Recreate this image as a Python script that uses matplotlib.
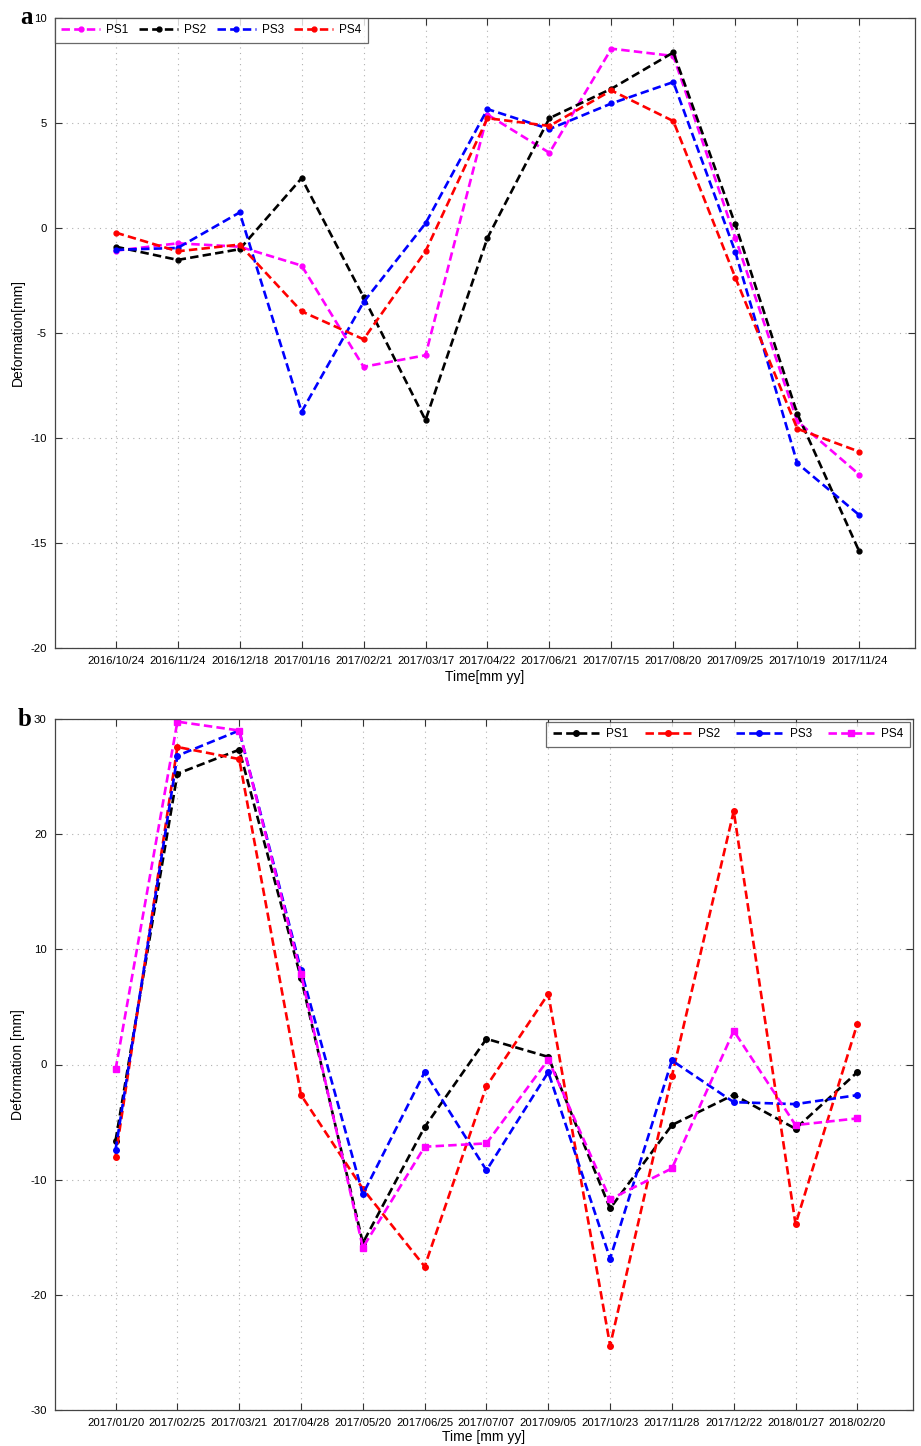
import matplotlib
matplotlib.use("Agg")
import matplotlib.pyplot as plt
from matplotlib import font_manager

names = {f.name for f in font_manager.fontManager.ttflist}
tickfont = 'Liberation Sans Narrow' if 'Liberation Sans Narrow' in names else 'Liberation Sans'
plt.rcParams['font.family'] = ['Liberation Sans', 'DejaVu Sans']

# ---------------- data: panel a ----------------
dates_a = ['2016/10/24', '2016/11/24', '2016/12/18', '2017/01/16', '2017/02/21',
           '2017/03/17', '2017/04/22', '2017/06/21', '2017/07/15', '2017/08/20',
           '2017/09/25', '2017/10/19', '2017/11/24']
a_ps1 = [-1.08, -0.73, -0.89, -1.79, -6.61, -6.06, 5.4, 3.58, 8.54, 8.19, -0.47, -9.2, -11.74]
a_ps2 = [-0.89, -1.52, -1.01, 2.37, -3.29, -9.15, -0.47, 5.23, 6.63, 8.36, 0.17, -8.84, -15.4]
a_ps3 = [-1.04, -0.95, 0.74, -8.75, -3.53, 0.22, 5.66, 4.71, 5.93, 6.95, -1.14, -11.2, -13.67]
a_ps4 = [-0.22, -1.11, -0.79, -3.97, -5.3, -1.11, 5.23, 4.86, 6.55, 5.09, -2.36, -9.56, -10.65]

# ---------------- data: panel b ----------------
dates_b = ['2017/01/20', '2017/02/25', '2017/03/21', '2017/04/28', '2017/05/20',
           '2017/06/25', '2017/07/07', '2017/09/05', '2017/10/23', '2017/11/28',
           '2017/12/22', '2018/01/27', '2018/02/20']
b_ps1 = [-6.6, 25.25, 27.33, 7.5, -15.5, -5.43, 2.23, 0.66, -12.5, -5.26, -2.63, -5.58, -0.66]
b_ps2 = [-8.0, 27.57, 26.52, -2.65, -10.8, -17.54, -1.88, 6.13, -24.4, -1.0, 22.0, -13.87, 3.55]
b_ps3 = [-7.4, 26.81, 29.0, 8.2, -11.27, -0.66, -9.19, -0.66, -16.85, 0.35, -3.27, -3.44, -2.66]
b_ps4 = [-0.43, 29.77, 29.0, 7.86, -15.9, -7.14, -6.85, 0.43, -11.7, -9.02, 2.92, -5.26, -4.68]

W, H = 921, 1446
fig = plt.figure(figsize=(W / 100, H / 100), dpi=100)

def make_axes(l, t, r, b):
    return fig.add_axes([l / W, 1 - b / H, (r - l) / W, (b - t) / H])

axa = make_axes(55, 18, 915, 648)
axb = make_axes(55, 719, 913, 1410)

DASH = (0, (3.2, 1.6))

def style(ax, labels, ylim, yticks, xlabel, ylabel, xlpad):
    x = list(range(len(labels)))
    ax.set_xlim(-0.98, 12.9)
    ax.set_ylim(*ylim)
    ax.set_xticks(x)
    ax.set_xticklabels(labels, fontfamily=tickfont, fontsize=8.2)
    ax.set_yticks(yticks)
    ax.set_yticklabels([str(v) for v in yticks], fontfamily=tickfont, fontsize=8.2)
    ax.tick_params(direction='in', top=True, right=True, length=5, width=0.8,
                   color='#333333', pad=6)
    ax.grid(True, linestyle=(0, (1, 4)), color='#b0b0b0', linewidth=0.8)
    for s in ax.spines.values():
        s.set_color('#444444')
        s.set_linewidth(0.9)
    ax.set_xlabel(xlabel, fontsize=10, labelpad=xlpad)
    ax.set_ylabel(ylabel, fontsize=10, labelpad=4)

# panel a
xa = list(range(len(dates_a)))
for vals, col, lab in [(a_ps1, '#ff00ff', 'PS1'), (a_ps2, 'black', 'PS2'),
                       (a_ps3, '#0000ff', 'PS3'), (a_ps4, '#ff0000', 'PS4')]:
    axa.plot(xa, vals, linestyle=DASH, color=col, linewidth=1.9, marker='o',
             markersize=3.5, label=lab)
style(axa, dates_a, (-20, 10), [-20, -15, -10, -5, 0, 5, 10], 'Time[mm yy]', 'Deformation[mm]', 3)
leg = axa.legend(loc='upper left', ncol=4, fontsize=8.5, frameon=True, fancybox=False,
                 edgecolor='#444444', handlelength=3.3, columnspacing=0.9,
                 handletextpad=0.5, borderaxespad=0.0, borderpad=0.55, numpoints=1)
leg.get_frame().set_linewidth(0.9)

# panel b
xb = list(range(len(dates_b)))
for vals, col, lab, mk, ms in [(b_ps1, 'black', 'PS1', 'o', 4), (b_ps2, '#ff0000', 'PS2', 'o', 4),
                               (b_ps3, '#0000ff', 'PS3', 'o', 4), (b_ps4, '#ff00ff', 'PS4', 's', 4.8)]:
    axb.plot(xb, vals, linestyle=DASH, color=col, linewidth=1.9, marker=mk,
             markersize=ms, label=lab)
style(axb, dates_b, (-30, 30), [-30, -20, -10, 0, 10, 20, 30], 'Time [mm yy]', 'Deformation [mm]', 1)
leg = axb.legend(loc='upper right', ncol=4, fontsize=8.5, frameon=True, fancybox=False,
                 edgecolor='#444444', handlelength=3.9, columnspacing=1.4,
                 handletextpad=0.6, borderaxespad=0.25, borderpad=0.55, numpoints=1)
leg.get_frame().set_linewidth(0.9)

fig.text(20 / W, 1 - 18 / H, 'a', fontsize=18, fontweight='bold', family='Liberation Serif',
         ha='left', va='center')
fig.text(18 / W, 1 - 719 / H, 'b', fontsize=18, fontweight='bold', family='Liberation Serif',
         ha='left', va='center')

fig.savefig('out.png', dpi=100)
